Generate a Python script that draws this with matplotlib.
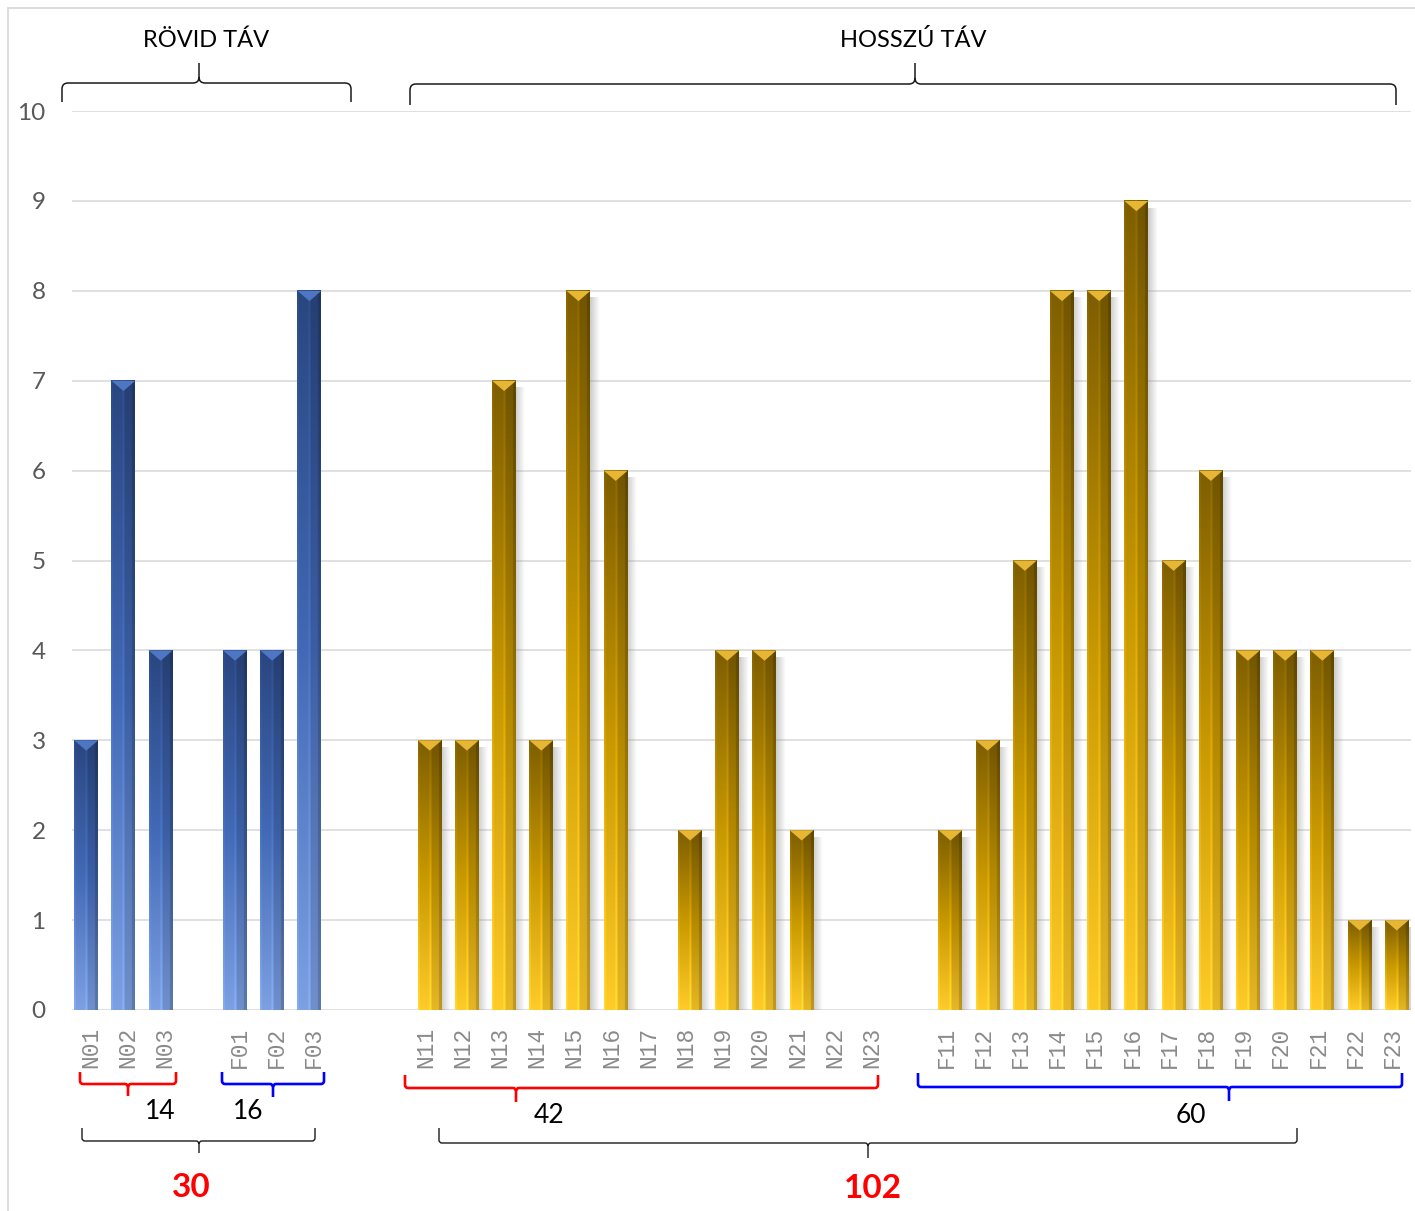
import numpy as np
import matplotlib
matplotlib.use("Agg")
import matplotlib.pyplot as plt
from matplotlib.path import Path
from matplotlib.patches import PathPatch, Rectangle, Polygon
from matplotlib.colors import to_rgb

# ---------------- data ----------------
short_n_cats = ["N01", "N02", "N03"]
short_n_vals = [3, 7, 4]
short_f_cats = ["F01", "F02", "F03"]
short_f_vals = [4, 4, 8]
long_n_cats = ["N11", "N12", "N13", "N14", "N15", "N16", "N17",
               "N18", "N19", "N20", "N21", "N22", "N23"]
long_n_vals = [3, 3, 7, 3, 8, 6, 0, 2, 4, 4, 2, 0, 0]
long_f_cats = ["F11", "F12", "F13", "F14", "F15", "F16", "F17",
               "F18", "F19", "F20", "F21", "F22", "F23"]
long_f_vals = [2, 3, 5, 8, 8, 9, 5, 6, 4, 4, 4, 1, 1]
group_titles = ["RÖVID TÁV", "HOSSZÚ TÁV"]
sub_totals = ["14", "16", "42", "60"]
grand_totals = ["30", "102"]
y_ticks = list(range(0, 11))

# build category axis (blank slots separate the groups)
cats, blue_vals, gold_vals = [], [], []
def add(c, v, series):
    for ci, vi in zip(c, v):
        cats.append(ci)
        blue_vals.append(vi if series == "blue" else None)
        gold_vals.append(vi if series == "gold" else None)
def blank(n):
    for _ in range(n):
        cats.append("")
        blue_vals.append(None)
        gold_vals.append(None)

add(short_n_cats, short_n_vals, "blue"); blank(1)
add(short_f_cats, short_f_vals, "blue"); blank(2)
add(long_n_cats, long_n_vals, "gold"); blank(1)
add(long_f_cats, long_f_vals, "gold")

# ---------------- figure ----------------
W, H = 1415, 1211
fig = plt.figure(figsize=(W / 100, H / 100), dpi=100)
fig.patch.set_facecolor("white")

def fx(px):
    return px / W
def fy(py):
    return 1 - py / H

ax = fig.add_axes([fx(72), fy(1010), 1339 / W, 899 / H])
ax.set_facecolor("none")

idx = np.arange(len(cats))
bw = 0.645
off = 0.117

bx = [i - off for i, v in zip(idx, blue_vals) if v is not None]
bv = [v for v in blue_vals if v is not None]
gx = [i + off for i, v in zip(idx, gold_vals) if v is not None]
gv = [v for v in gold_vals if v is not None]

blue_bars = ax.bar(bx, bv, width=bw, color="#3A62AC", linewidth=0, zorder=3)
gold_bars = ax.bar(gx, gv, width=bw, color="#D9A400", linewidth=0, zorder=3)

# horizontal bevel profile
ncol = 80
u = (np.arange(ncol) + 0.5) / ncol
prof = np.ones(ncol)
prof[u < 0.07] = 1.08
prof[(u >= 0.47) & (u < 0.56)] = 1.10
prof[u >= 0.56] = 0.90
prof[u >= 0.88] = 0.75

def grad_img(top, mid, bot, rows=120):
    t = np.linspace(0, 1, rows)[:, None, None]
    top = np.array(to_rgb(top))[None, None, :]
    mid = np.array(to_rgb(mid))[None, None, :]
    bot = np.array(to_rgb(bot))[None, None, :]
    img = np.where(t < 0.5, top * (1 - 2 * t) + mid * (2 * t),
                   mid * (2 - 2 * t) + bot * (2 * t - 1))
    img = img * prof[None, :, None]
    return np.clip(img, 0, 1)

blue_img = grad_img("#2A4680", "#4269B5", "#7CA0E2")
gold_img = grad_img("#7E5E00", "#C89800", "#FFCB2A")

tri_h = 0.115  # depth of top bevel triangle (data units)

def decorate(bars, img, tri_col, shadow):
    for p in bars:
        h = p.get_height()
        if h <= 0:
            continue
        x0 = p.get_x()
        x1 = x0 + p.get_width()
        if shadow:
            sh = np.zeros((2, 30, 4))
            sh[..., :3] = 0.55
            sh[..., 3] = np.linspace(0.45, 0.0, 30)[None, :]
            ax.imshow(sh, extent=[x1 - 0.02, x1 + 0.24, 0, h - 0.08],
                      aspect="auto", interpolation="bilinear", zorder=2)
        ax.imshow(img, extent=[x0, x1, 0, h], aspect="auto",
                  interpolation="bilinear", zorder=3.5)
        ax.add_patch(Polygon([[x0, h], [x1, h], [(x0 + x1) / 2, h - tri_h]],
                             closed=True, facecolor=tri_col, edgecolor="none",
                             zorder=4))

decorate(blue_bars, blue_img, "#4E76C2", False)
decorate(gold_bars, gold_img, "#E6B634", True)

ax.set_xlim(-0.5, len(cats) - 0.5)
ax.set_ylim(0, 10)
ax.set_yticks(y_ticks)
ax.set_yticklabels([str(v) for v in y_ticks], fontsize=17.5, color="#595959",
                   family=["Lato", "DejaVu Sans"])
ax.set_xticks(idx)
ax.set_xticklabels(cats, rotation=90, fontsize=16.5, color="#8A8A8A",
                   family=["Liberation Mono", "DejaVu Sans Mono"],
                   ha="center", va="top")
ax.tick_params(axis="y", length=0, pad=19)
ax.tick_params(axis="x", length=0, pad=12)
ax.grid(axis="y", color="#DADADA", linewidth=1.2, zorder=0)
ax.set_axisbelow(True)
for s in ax.spines.values():
    s.set_visible(False)

# ---------------- frame ----------------
fig.add_artist(Rectangle((fx(8), fy(1260)), (1460 - 8) / W, (1260 - 8) / H,
                         transform=fig.transFigure, fill=False,
                         edgecolor="#D9D9D9", linewidth=1.3))

# ---------------- braces ----------------
def brace(x0, x1, xm, y_end, y_bar, y_tip, color, lw, r=5):
    se = np.sign(y_end - y_bar)
    st = np.sign(y_tip - y_bar)
    P = lambda x, y: (fx(x), fy(y))
    verts = [P(x0, y_end), P(x0, y_bar + se * r), P(x0, y_bar), P(x0 + r, y_bar),
             P(xm - r, y_bar), P(xm, y_bar), P(xm, y_bar + st * r), P(xm, y_tip)]
    codes = [Path.MOVETO, Path.LINETO, Path.CURVE3, Path.CURVE3,
             Path.LINETO, Path.CURVE3, Path.CURVE3, Path.LINETO]
    verts2 = [P(x1, y_end), P(x1, y_bar + se * r), P(x1, y_bar), P(x1 - r, y_bar),
              P(xm + r, y_bar), P(xm, y_bar), P(xm, y_bar + st * r)]
    codes2 = [Path.MOVETO, Path.LINETO, Path.CURVE3, Path.CURVE3,
              Path.LINETO, Path.CURVE3, Path.CURVE3]
    path = Path(verts + verts2, codes + codes2)
    fig.add_artist(PathPatch(path, transform=fig.transFigure, fill=False,
                             edgecolor=color, linewidth=lw,
                             capstyle="butt", joinstyle="round"))

# top group braces
brace(62, 351, 199, 102, 83, 63, "#1A1A1A", 1.1, r=6)
brace(410, 1396, 915, 105, 84, 63, "#1A1A1A", 1.1, r=6)
# sub-group braces
brace(80, 176, 128, 1072, 1084, 1096, "#FF0000", 1.9, r=3)
brace(222, 324, 273, 1072, 1084, 1097, "#0000FF", 1.9, r=3)
brace(405, 878, 516, 1075, 1088, 1102, "#FF0000", 1.9, r=3)
brace(918, 1402, 1229, 1073, 1087, 1101, "#0000FF", 1.9, r=3)
# total braces
brace(82, 315, 199, 1128, 1141, 1153, "#1A1A1A", 1.0, r=3)
brace(439, 1297, 868, 1128, 1143, 1158, "#1A1A1A", 1.0, r=3)

# ---------------- texts ----------------
tf = ["Lato", "DejaVu Sans"]
fig.text(fx(206), fy(47), group_titles[0], fontsize=17, family=tf,
         ha="center", va="baseline", color="#000000")
fig.text(fx(913), fy(47), group_titles[1], fontsize=17, family=tf,
         ha="center", va="baseline", color="#000000")

for txt, x, y in zip(sub_totals, [160, 248, 549, 1191], [1119, 1119, 1123, 1123]):
    fig.text(fx(x), fy(y), txt, fontsize=19, family=tf, ha="center",
             va="baseline", color="#000000")
for txt, x, y in zip(grand_totals, [191, 873], [1197, 1198]):
    fig.text(fx(x), fy(y), txt, fontsize=24, family=tf, weight="bold",
             ha="center", va="baseline", color="#FF0000")

fig.savefig("out.png", dpi=100)
